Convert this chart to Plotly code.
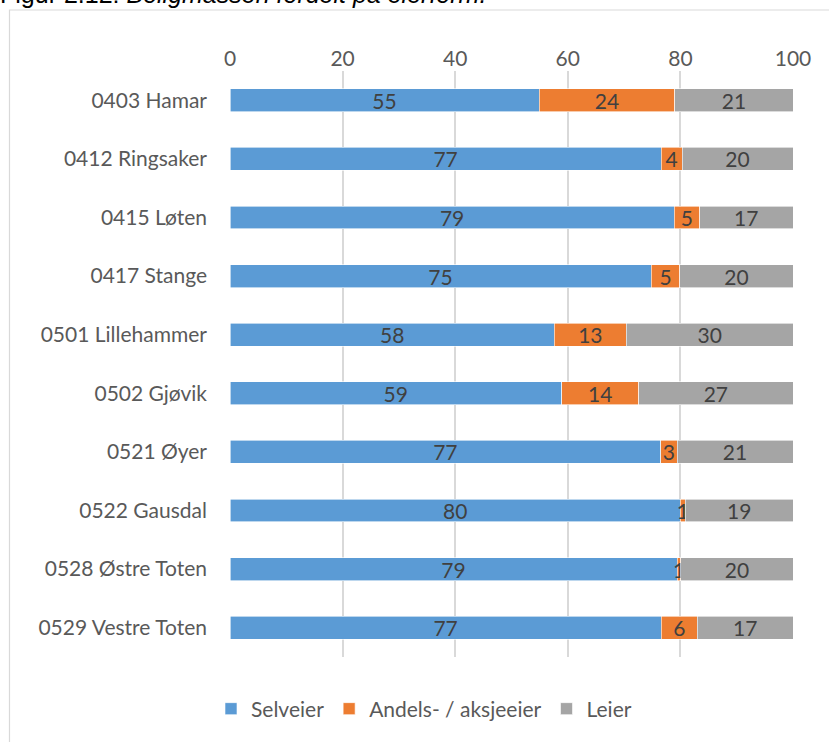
import plotly.graph_objects as go

# kommuner og andeler (prosent) per eierform
kommuner = ["0403 Hamar", "0412 Ringsaker", "0415 Løten", "0417 Stange",
            "0501 Lillehammer", "0502 Gjøvik", "0521 Øyer", "0522 Gausdal",
            "0528 Østre Toten", "0529 Vestre Toten"]
selveier = [54.9, 76.6, 78.9, 74.8, 57.6, 58.9, 76.5, 80.0, 79.4, 76.6]
andels = [24.1, 3.7, 4.5, 5.1, 12.8, 13.7, 2.9, 0.9, 0.7, 6.4]
leier = [21.0, 19.7, 16.6, 20.1, 29.6, 27.4, 20.6, 19.1, 19.9, 17.0]
x_ticks = [0, 20, 40, 60, 80, 100]

series = [("Selveier", selveier, "#5b9bd5"),
          ("Andels- / aksjeeier", andels, "#ed7d31"),
          ("Leier", leier, "#a5a5a5")]

FONT = "Lato, 'Open Sans', sans-serif"
FS = 21

fig = go.Figure()
for name, vals, col in series:
    fig.add_trace(go.Bar(
        y=kommuner, x=vals, name=name, orientation="h",
        marker=dict(color=col, line=dict(color="white", width=0.6)),
        width=0.39,
        texttemplate="%{x:.0f}", textposition="inside",
        insidetextanchor="middle", textangle=0,
        textfont=dict(family=FONT, size=FS, color="#404040"),
    ))

# plot area in pixels: x 230..793, y 71..657
px_l, px_r, px_t, px_b = 230, 793, 71, 657
pw, ph = px_r - px_l, px_b - px_t


def paper_x(p):
    return (p - px_l) / pw


def paper_y(p):
    return (px_b - p) / ph


fig.update_layout(
    width=829, height=742,
    barmode="stack", bargap=0.6,
    margin=dict(l=px_l, r=829 - px_r, t=px_t, b=742 - px_b),
    paper_bgcolor="white", plot_bgcolor="white",
    font=dict(family=FONT, size=FS, color="#595959"),
    uniformtext=dict(mode="show", minsize=FS),
    xaxis=dict(side="top", range=[0, 100], tickvals=x_ticks,
               showgrid=True, gridcolor="#d9d9d9", gridwidth=1.5,
               zeroline=False, showline=False, ticks="",
               tickfont=dict(size=FS, color="#595959")),
    yaxis=dict(autorange="reversed", showgrid=False, zeroline=False,
               showline=False, ticks="", ticklabelstandoff=22,
               tickfont=dict(size=FS, color="#595959")),
    legend=dict(orientation="h", x=paper_x(424), xanchor="center",
                y=paper_y(709), yanchor="middle",
                font=dict(size=FS, color="#595959"),
                traceorder="normal", itemwidth=30),
    shapes=[dict(type="rect", xref="paper", yref="paper",
                 x0=paper_x(9.5), x1=paper_x(860),
                 y0=paper_y(10), y1=paper_y(780),
                 line=dict(color="#d9d9d9", width=1.2), layer="below")],
    annotations=[dict(
        text="Figur 2.12: <i>Boligmassen fordelt på eierform.</i>",
        xref="paper", yref="paper", x=paper_x(-2), y=paper_y(10),
        xanchor="left", yanchor="bottom", showarrow=False,
        font=dict(family="Liberation Sans, Arial", size=25, color="black"))],
)

fig.write_html("out.html", config={"displayModeBar": False},
               post_script="document.body.style.margin='0';")
